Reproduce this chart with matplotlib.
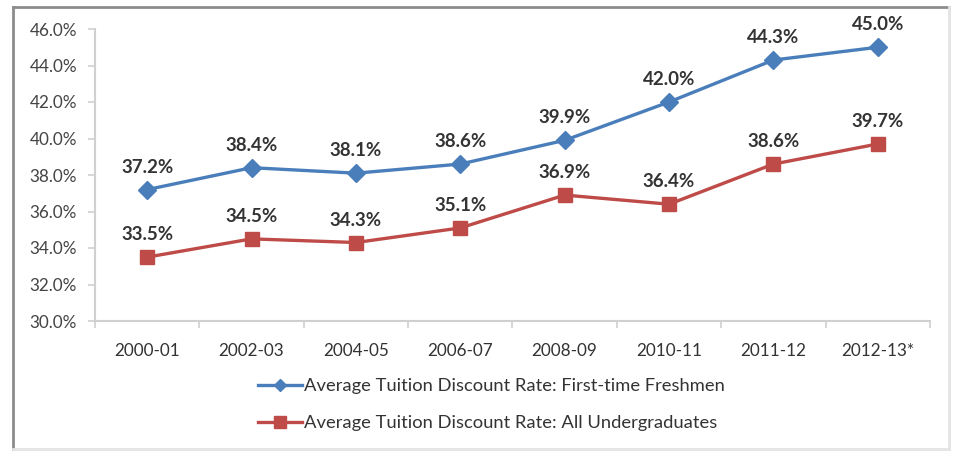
"""
Average tuition discount rate, first-time freshmen vs all undergraduates.
Excel-style line chart with value labels and a two-row legend underneath.
"""

import matplotlib

matplotlib.use("Agg")
import matplotlib.pyplot as plt
from matplotlib.lines import Line2D
from matplotlib.ticker import FixedLocator, FuncFormatter

# data
years = ["2000-01", "2002-03", "2004-05", "2006-07",
         "2008-09", "2010-11", "2011-12", "2012-13*"]
freshmen = [37.2, 38.4, 38.1, 38.6, 39.9, 42.0, 44.3, 45.0]
undergrads = [33.5, 34.5, 34.3, 35.1, 36.9, 36.4, 38.6, 39.7]
freshmen_label = "Average Tuition Discount Rate: First-time Freshmen"
undergrads_label = "Average Tuition Discount Rate: All Undergraduates"

BLUE = "#4a7ebb"
RED = "#be4b48"
AXIS_GREY = "#d0d0d0"
TEXT = "#333333"

plt.rcParams["font.family"] = ["Lato", "DejaVu Sans"]

W, H = 954, 451
fig = plt.figure(figsize=(W / 100, H / 100), dpi=100)
ax = fig.add_axes([95 / W, 1 - 321 / H, (930 - 95) / W, (321 - 29) / H])

x = list(range(len(years)))
ax.plot(x, freshmen, color=BLUE, lw=2.4, marker="D", ms=9,
        label=freshmen_label, zorder=3)
ax.plot(x, undergrads, color=RED, lw=2.4, marker="s", ms=10,
        label=undergrads_label, zorder=3)

# value labels above each point
for xi, v in zip(x, freshmen):
    ax.annotate(f"{v:.1f}%", (xi, v), xytext=(0, 10), textcoords="offset points",
                ha="center", va="bottom", fontsize=13.5, fontweight="bold", color=TEXT)
for xi, v in zip(x, undergrads):
    ax.annotate(f"{v:.1f}%", (xi, v), xytext=(0, 10), textcoords="offset points",
                ha="center", va="bottom", fontsize=13.5, fontweight="bold", color=TEXT)

ax.set_xlim(-0.5, len(years) - 0.5)
ax.set_ylim(30, 46)
ax.set_yticks(range(30, 47, 2))
ax.yaxis.set_major_formatter(FuncFormatter(lambda v, _: f"{v:.1f}%"))
ax.set_xticks(x)
ax.set_xticklabels(years)
ax.xaxis.set_minor_locator(FixedLocator([i - 0.5 for i in range(len(years) + 1)]))
ax.tick_params(axis="x", which="major", length=0, pad=16, labelsize=12.3, labelcolor=TEXT)
ax.tick_params(axis="x", which="minor", length=5, color=AXIS_GREY, width=1.2)
ax.tick_params(axis="y", length=5, color=AXIS_GREY, width=1.2, pad=8,
               labelsize=12.3, labelcolor="#444444")

for side in ("top", "right"):
    ax.spines[side].set_visible(False)
for side in ("left", "bottom"):
    ax.spines[side].set_color(AXIS_GREY)
    ax.spines[side].set_linewidth(1.5)

# legend below the plot, one entry per row
handles = [
    Line2D([], [], color=BLUE, lw=2.4, marker="D", ms=6),
    Line2D([], [], color=RED, lw=2.4, marker="s", ms=9),
]
fig.legend(handles, [freshmen_label, undergrads_label],
           loc="upper left", bbox_to_anchor=(241 / W, 1 - 362 / H),
           frameon=False, fontsize=13.2, labelcolor=TEXT,
           handlelength=2.4, handletextpad=0.15, labelspacing=1.12)

# outer chart frame (darker top/left, light bottom/right)
fig.add_artist(Line2D([13.5 / W, 13.5 / W], [1 - 6.5 / H, 1 - 449 / H],
                      transform=fig.transFigure, color="#8c8c8c", lw=2))
fig.add_artist(Line2D([13.5 / W, 949 / W], [1 - 6.5 / H, 1 - 6.5 / H],
                      transform=fig.transFigure, color="#8c8c8c", lw=2))
fig.add_artist(Line2D([949 / W, 949 / W], [1 - 6.5 / H, 1 - 449 / H],
                      transform=fig.transFigure, color="#e4e4e4", lw=2))
fig.add_artist(Line2D([13.5 / W, 949 / W], [1 - 449 / H, 1 - 449 / H],
                      transform=fig.transFigure, color="#e4e4e4", lw=2))

fig.savefig("out.png", dpi=100)
